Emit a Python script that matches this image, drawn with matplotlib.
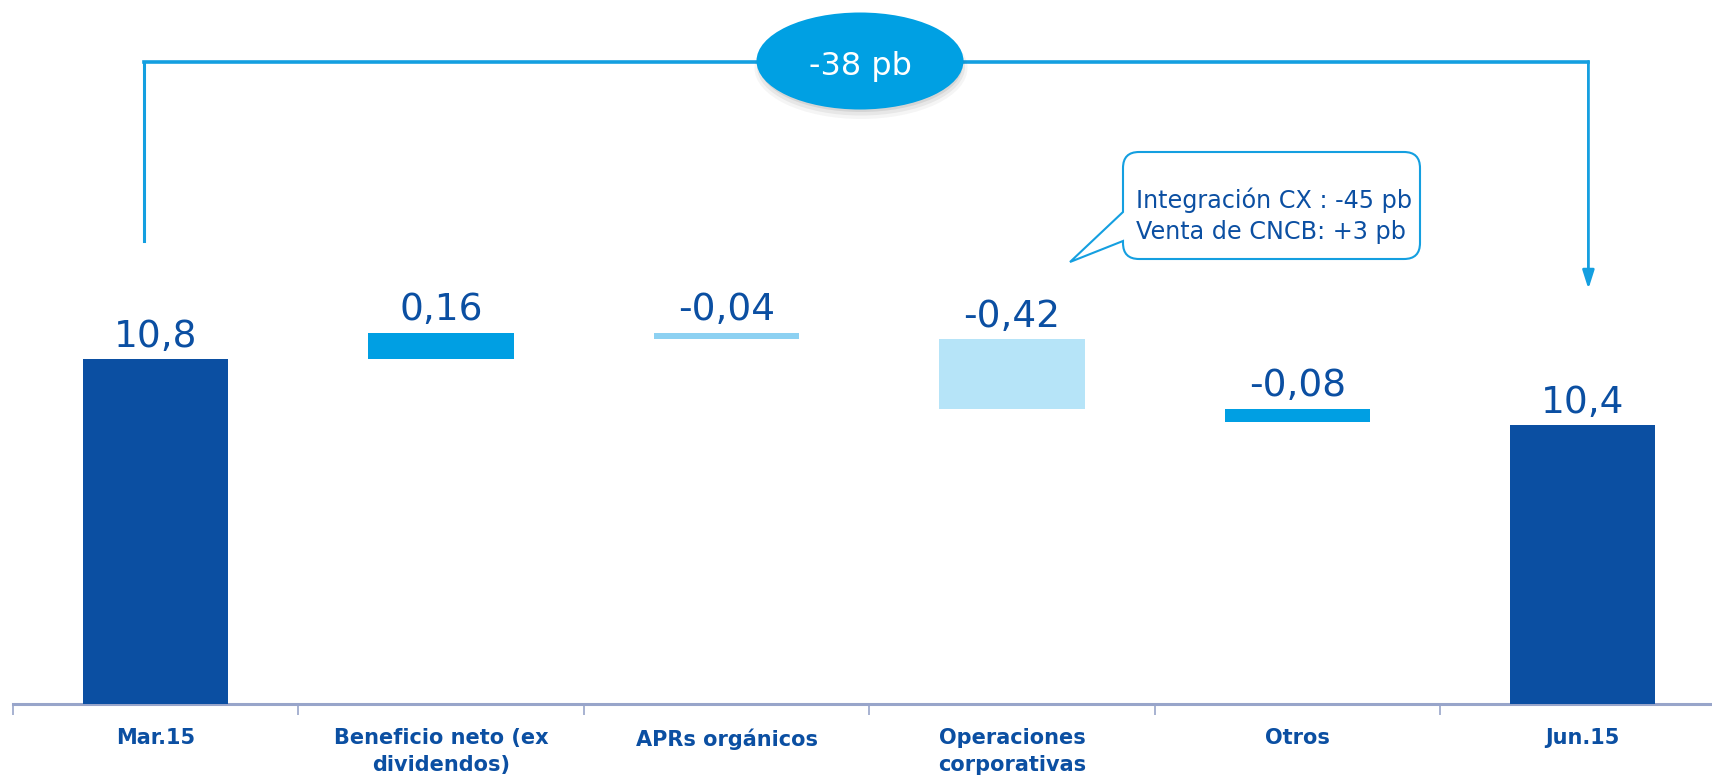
import matplotlib
matplotlib.use("Agg")
import matplotlib.pyplot as plt
from matplotlib.patches import Ellipse, PathPatch
from matplotlib.path import Path

# valores del grafico (CET1, %)
categorias = ["Mar.15", "Beneficio neto (ex\ndividendos)", "APRs orgánicos",
              "Operaciones\ncorporativas", "Otros", "Jun.15"]
inicio = 10.8
variaciones = [0.16, -0.04, -0.42, -0.08]
final = 10.4
colores_var = ["#009FE3", "#8DD1F2", "#B6E4F8", "#009FE3"]

AZUL = "#0B4FA2"
CELESTE = "#149FE0"
W, H = 1712, 776
Y0, ESCALA = 8.713, 165.3   # valor en la base del eje y px por unidad

fig = plt.figure(figsize=(W / 100, H / 100), dpi=100)
ax = fig.add_axes([13 / W, 72 / H, 1712.4 / W, 704 / H])
ax.set_xlim(-0.5, 5.5)
ax.set_ylim(Y0, Y0 + 704 / ESCALA)


def px2y(py):
    # fila de la imagen -> valor del eje y
    return Y0 + (704 - py) / ESCALA


def fmt(v):
    s = ("%.2f" % v) if abs(v) < 1 else ("%.1f" % v)
    return s.replace(".", ",")


ancho = 0.51
tops = []
# barra inicial
ax.bar(0, inicio - Y0, bottom=Y0, width=ancho, color=AZUL, zorder=3)
tops.append((inicio, fmt(inicio)))
nivel = inicio
for i, (v, c) in enumerate(zip(variaciones, colores_var), start=1):
    base = min(nivel, nivel + v)
    ax.bar(i, abs(v), bottom=base, width=ancho, color=c, zorder=3)
    tops.append((max(nivel, nivel + v), fmt(v)))
    nivel += v
# barra final
ax.bar(5, final - Y0, bottom=Y0, width=ancho, color=AZUL, zorder=3)
tops.append((final, fmt(final)))

for i, (y, txt) in enumerate(tops):
    ax.annotate(txt, (i, y), xytext=(0, 9), textcoords="offset points",
                ha="center", va="baseline", fontsize=27, color=AZUL)

# eje x
for s in ["left", "right", "top"]:
    ax.spines[s].set_visible(False)
ax.spines["bottom"].set_color("#98A5CA")
ax.spines["bottom"].set_linewidth(2.2)
ax.set_yticks([])
ax.set_xticks(range(len(categorias)))
ax.set_xticklabels(categorias, fontsize=15, fontweight="bold", color=AZUL,
                   linespacing=1.4)
ax.tick_params(axis="x", which="major", length=0, pad=17.5)
ax.set_xticks([i - 0.5 for i in range(len(categorias) + 1)], minor=True)
ax.tick_params(axis="x", which="minor", length=8, width=1.2, color="#98A5CA")

# corchete de variacion total
y_sup = px2y(61.5)
xl, xr = -0.04, 5.02
ax.plot([xl, xr], [y_sup, y_sup], color=CELESTE, lw=2.6, solid_capstyle="projecting")
ax.plot([xl, xl], [px2y(241), y_sup], color=CELESTE, lw=2.2)
ax.annotate("", xy=(xr, px2y(289)), xytext=(xr, y_sup),
            arrowprops=dict(arrowstyle="-|>,head_length=1.1,head_width=0.35",
                            color=CELESTE, lw=2.0, shrinkA=0, shrinkB=0))

# elipse con sombra
for k, a in enumerate([0.05, 0.08, 0.11, 0.14]):
    sh = Ellipse((861 / W, 1 - (68 - k) / H), (213 - 5 * k) / W, (102 - 5 * k) / H,
                 transform=fig.transFigure, color="#444444", alpha=a, lw=0)
    fig.add_artist(sh)
fig.add_artist(Ellipse((860 / W, 1 - 61 / H), 207 / W, 97 / H,
                       transform=fig.transFigure, color="#00A0E3", lw=0))
fig.text(860 / W, 1 - 66 / H, "-38 pb", ha="center", va="center",
         fontsize=23, color="white")

# globo de texto
x0, x1, y0, y1, r = 1123, 1420, 152, 259, 16
pts = [
    ((x0 + r, y0), Path.MOVETO),
    ((x1 - r, y0), Path.LINETO),
    ((x1, y0), Path.CURVE3), ((x1, y0 + r), Path.CURVE3),
    ((x1, y1 - r), Path.LINETO),
    ((x1, y1), Path.CURVE3), ((x1 - r, y1), Path.CURVE3),
    ((x0 + r, y1), Path.LINETO),
    ((x0, y1), Path.CURVE3), ((x0, y1 - r), Path.CURVE3),
    ((x0, 241), Path.LINETO),
    ((1070, 262), Path.LINETO),
    ((x0, 212), Path.LINETO),
    ((x0, y0 + r), Path.LINETO),
    ((x0, y0), Path.CURVE3), ((x0 + r, y0), Path.CURVE3),
    ((x0 + r, y0), Path.CLOSEPOLY),
]
verts = [(x / W, 1 - y / H) for (x, y), _ in pts]
codes = [c for _, c in pts]
fig.add_artist(PathPatch(Path(verts, codes), transform=fig.transFigure,
                         facecolor="white", edgecolor=CELESTE, lw=1.5))
fig.text(1136 / W, 1 - 216 / H,
         "Integración CX : -45 pb\nVenta de CNCB: +3 pb",
         ha="left", va="center", fontsize=17.2, color=AZUL, linespacing=1.38)

fig.savefig("out.png", dpi=100)
